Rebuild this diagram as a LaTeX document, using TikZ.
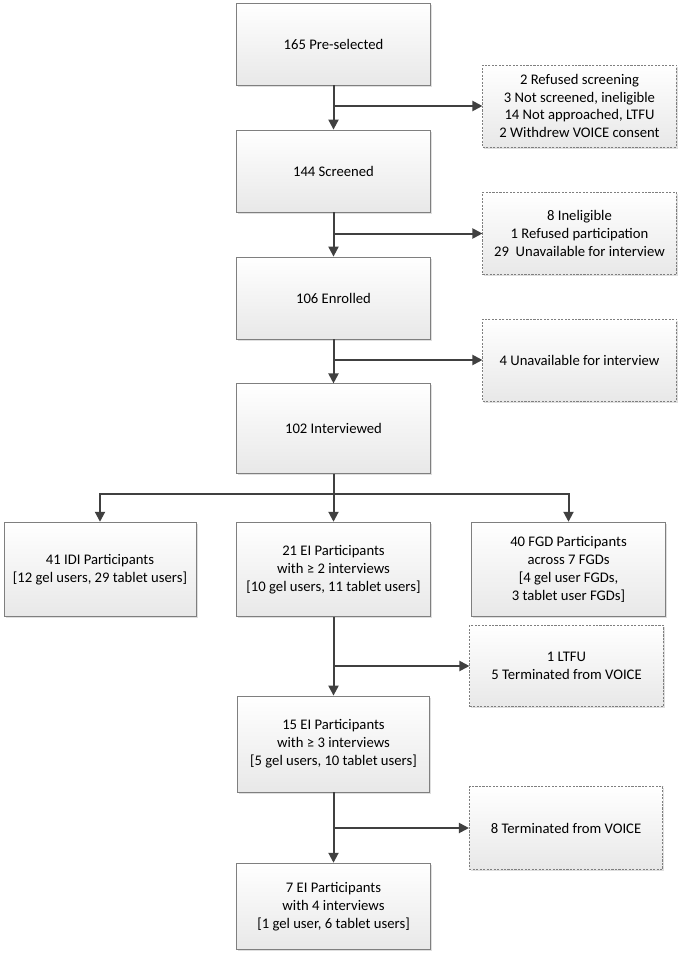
\documentclass[tikz,border=0pt]{standalone}
\usepackage{fontspec}
\setmainfont{Carlito}
\usetikzlibrary{arrows.meta, shadows}

\definecolor{linegray}{HTML}{404040}
\definecolor{edgegray}{HTML}{7F7F7F}

\tikzset{
    box/.style={draw=edgegray, line width=0.6pt, align=center,
        top color=white, bottom color=black!9,
        drop shadow={shadow xshift=1.2pt, shadow yshift=-1.2pt, opacity=0.25},
        font=\fontsize{11}{13.4}\selectfont, inner sep=2pt},
    exclbox/.style={box, draw=edgegray, dash pattern=on 1.6pt off 1pt},
    flow/.style={draw=linegray, line width=1.5pt,
        -{Triangle[length=7.5pt, width=7.5pt]}},
}

\begin{document}
\begin{tikzpicture}[x=0.75pt, y=-0.75pt]
        \useasboundingbox (0, 0) rectangle (682, 966);

        \node[box, minimum width=145pt, minimum height=61.5pt] at (333.5, 44)    (pre)  {165 Pre-selected};
        \node[box, minimum width=145pt, minimum height=61.5pt] at (333.5, 171)   (scr)  {144 Screened};
        \node[box, minimum width=145pt, minimum height=61.5pt] at (333.5, 298)   (enr)  {106 Enrolled};
        \node[box, minimum width=145pt, minimum height=67pt]   at (333.5, 428.5) (intv) {102 Interviewed};
        \node[box, minimum width=144pt, minimum height=71pt]   at (100, 569.5)   (idi)  {41 IDI Participants\\ {[12 gel users, 29 tablet users]}};
        \node[box, minimum width=145pt, minimum height=71pt]   at (333.5, 569.5) (ei2)  {21 EI Participants\\ with ≥ 2 interviews\\ {[10 gel users, 11 tablet users]}};
        \node[box, minimum width=146pt, minimum height=71pt]   at (568.5, 569.5) (fgd)  {40 FGD Participants\\ across 7 FGDs\\ {[4 gel user FGDs,}\\ 3 tablet user FGDs]};
        \node[box, minimum width=144pt, minimum height=72pt]   at (333.5, 744)   (ei3)  {15 EI Participants\\ with ≥ 3 interviews\\ {[5 gel users, 10 tablet users]}};
        \node[box, minimum width=145pt, minimum height=65pt]   at (333.5, 906.5) (ei4)  {7 EI Participants\\ with 4 interviews\\ {[1 gel user, 6 tablet users]}};

        \node[exclbox, minimum width=145pt, minimum height=61.5pt] at (579.5, 106)   (excl1) {2 Refused screening\\ 3 Not screened, ineligible\\ 14 Not approached, LTFU\\ 2 Withdrew VOICE consent};
        \node[exclbox, minimum width=145pt, minimum height=62pt]   at (579.5, 233.5) (excl2) {8 Ineligible\\ 1 Refused participation\\ 29\ \ Unavailable for interview};
        \node[exclbox, minimum width=145pt, minimum height=61.5pt] at (579.5, 360)   (excl3) {4 Unavailable for interview};
        \node[exclbox, minimum width=145pt, minimum height=61pt]   at (566.5, 666)   (excl4) {1 LTFU\\ 5 Terminated from VOICE};
        \node[exclbox, minimum width=145pt, minimum height=62pt]   at (566, 828)     (excl5) {8 Terminated from VOICE};

        \coordinate (j1) at (333.5, 106);
        \coordinate (j2) at (333.5, 233.5);
        \coordinate (j3) at (333.5, 360);
        \coordinate (split) at (333.5, 494);
        \coordinate (j4) at (333.5, 666);
        \coordinate (j5) at (333.5, 828);

        \draw[flow] (pre) -- (scr);
        \draw[flow] (scr) -- (enr);
        \draw[flow] (enr) -- (intv);
        \draw[flow] (intv) -- (ei2);
        \draw[flow] (ei2) -- (ei3);
        \draw[flow] (ei3) -- (ei4);
        \draw[flow] (j1) -- (excl1);
        \draw[flow] (j2) -- (excl2);
        \draw[flow] (j3) -- (excl3);
        \draw[flow] (j4) -- (excl4);
        \draw[flow] (j5) -- (excl5);
        \draw[flow] (split) -| (idi);
        \draw[flow] (split) -| (fgd);
    \end{tikzpicture}
\end{document}
